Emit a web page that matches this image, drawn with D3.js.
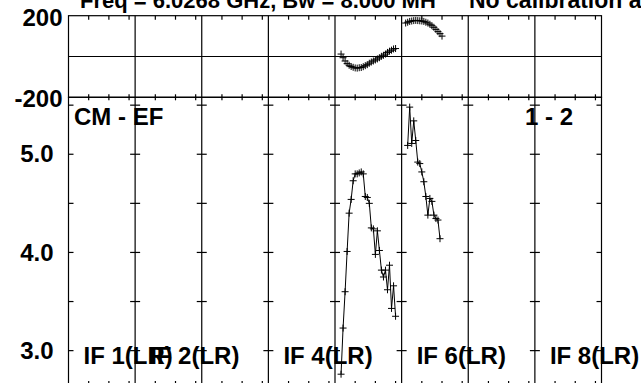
<!DOCTYPE html>
<html><head><meta charset="utf-8">
<script src="https://cdn.jsdelivr.net/npm/d3@7"></script>
<style>
body{margin:0;background:#fff;}
svg{display:block;font-family:"Liberation Sans",Arial,sans-serif;font-weight:bold;}
</style></head>
<body>
<svg id="c" width="641" height="383"></svg>
<script>
// ---------------- data ----------------
const titleLeft = "Freq = 6.0268 GHz, Bw = 8.000 MH";
const titleRight = "No calibration applied";
const baselineLabel = "CM - EF";
const pageLabel = "1 - 2";
const nIF = 8;
const chanPerIF = 33;
const minorTickChans = [10, 20, 30];
const ifLabelIdx = [0, 1, 3, 5, 7];
const ifLabels = ["IF 1(LR)", "IF 2(LR)", "IF 4(LR)", "IF 6(LR)", "IF 8(LR)"];
const phaseTicks = [-200, 200];
const ampTicks = [3.0, 3.5, 4.0, 4.5, 5.0, 5.5];
const ampLabelTicks = [3.0, 4.0, 5.0];

// IF 5 (index 4)
const if5Chan = [3,4,5,6,7,8,9,10,11,12,13,14,15,16,17,18,19,20,21,22,23,24,25,26,27,28,29,30];
const if5Amp = [2.76,3.23,3.60,4.01,4.40,4.54,4.73,4.80,4.80,4.81,4.82,4.80,4.57,4.56,4.50,4.25,4.24,3.98,4.22,4.02,3.82,3.75,3.82,3.62,3.87,3.43,3.66,3.35];
const if5Phase = [12,-6,-22,-35,-43,-49,-53,-56,-57,-55,-54,-50,-45,-40,-33,-27,-22,-17,-12,-6,1,6,12,20,26,31,37,39];
// IF 6 (index 5)
const if6AmpChan = [3,4,5,6,7,8,9,10,11,12,13,14,15,16,17,18,19];
const if6Amp = [5.09,5.48,5.11,5.34,5.14,4.92,4.905,4.82,4.72,4.57,4.38,4.55,4.52,4.38,4.345,4.33,4.14];
const if6PhaseChan = [2,3,4,5,6,7,8,9,10,11,12,13,14,15,16,17,18,19,20];
const if6Phase = [164,168,172,174,176,177,176,175,174,172,168,164,158,151,143,133,122,112,100];

// ---------------- layout ----------------
const svg = d3.select("#c");
const X0 = 68.5, X1 = 601.5;
const topY0 = 15.7, topY1 = 97.3;
const botY0 = 97.3, botY1 = 385;

const x = d3.scaleLinear().domain([0, nIF*chanPerIF]).range([X0, X1]);
const yP = d3.scaleLinear().domain([-200, 200]).range([topY1, topY0]);
const yA = d3.scaleLinear().domain([2.65, 5.58]).range([botY1, botY0]);

const pos = (k, c) => x(k*chanPerIF + c);

// title
svg.append("text").attr("x", 80).attr("y", 8).attr("font-size", 22).text(titleLeft);
svg.append("text").attr("x", 469).attr("y", 8).attr("font-size", 23).text(titleRight);

const g = svg.append("g").attr("stroke", "#000").attr("fill", "none").attr("stroke-width", 1.2);

// frames
g.append("rect").attr("x", X0).attr("y", topY0).attr("width", X1-X0).attr("height", topY1-topY0);
g.append("rect").attr("x", X0).attr("y", botY0).attr("width", X1-X0).attr("height", botY1-botY0);
// zero line in phase panel
g.append("line").attr("x1", X0).attr("x2", X1).attr("y1", yP(0)).attr("y2", yP(0));

// IF separators
const seps = d3.range(1, nIF).map(k => k*chanPerIF);
g.selectAll(".sep").data(seps).join("line")
  .attr("x1", d => x(d)).attr("x2", d => x(d)).attr("y1", topY0).attr("y2", botY1);

// minor x ticks
const minor = [];
for (let k = 0; k < nIF; k++) for (const c of minorTickChans) minor.push(k*chanPerIF + c);
const tickSets = [
  {y: topY0, d: 4}, {y: topY1, d: -3}, {y: botY0, d: 3}, {y: botY1, d: -4}
];
tickSets.forEach(t => {
  g.append("g").selectAll("line").data(minor).join("line")
   .attr("x1", d => x(d)).attr("x2", d => x(d)).attr("y1", t.y).attr("y2", t.y + t.d);
});

// amplitude y ticks on each vertical line
const vlines = [0].concat(seps).concat([nIF*chanPerIF]);
vlines.forEach((v, i) => {
  const xv = x(v);
  const l = (i === 0) ? 0 : -5;
  const r = (i === vlines.length-1) ? 0 : 5;
  g.append("g").selectAll("line").data(ampTicks).join("line")
    .attr("x1", xv + l).attr("x2", xv + r)
    .attr("y1", d => yA(d)).attr("y2", d => yA(d));
});

// y axes labels
const axP = svg.append("g").attr("transform", `translate(${X0},2)`)
  .call(d3.axisLeft(yP).tickValues(phaseTicks).tickSize(0).tickPadding(6).tickFormat(d => String(d)));
const axA = svg.append("g").attr("transform", `translate(${X0},0)`)
  .call(d3.axisLeft(yA).tickValues(ampLabelTicks).tickSize(0).tickPadding(15).tickFormat(d3.format(".1f")));
[axP, axA].forEach(a => {
  a.select(".domain").remove();
  a.selectAll("text").attr("font-size", 24).attr("font-family", "Liberation Sans, Arial, sans-serif")
   .attr("font-weight", "bold").attr("fill", "#000");
});

// panel labels
svg.append("text").attr("x", 74).attr("y", 124.5).attr("font-size", 24).text(baselineLabel);
svg.append("text").attr("x", 573).attr("y", 124.5).attr("font-size", 24).attr("text-anchor", "end").text(pageLabel);
svg.append("g").selectAll("text").data(ifLabelIdx).join("text")
  .attr("x", d => pos(d, 0) + 15).attr("y", 364).attr("font-size", 24)
  .text((d, i) => ifLabels[i]);

// data
const plus = (sel, pts) => {
  const gg = sel.append("g").attr("stroke", "#000").attr("stroke-width", 1);
  gg.selectAll(".h").data(pts).join("line").attr("x1", d => d[0]-3.5).attr("x2", d => d[0]+3.5).attr("y1", d => d[1]).attr("y2", d => d[1]);
  gg.selectAll(".v").data(pts).join("line").attr("x1", d => d[0]).attr("x2", d => d[0]).attr("y1", d => d[1]-3.5).attr("y2", d => d[1]+3.5);
};
const line = d3.line();
const ampSeries = [
  if5Chan.map((c, i) => [pos(4, c), yA(if5Amp[i])]),
  if6AmpChan.map((c, i) => [pos(5, c), yA(if6Amp[i])])
];
const phSeries = [
  if5Chan.map((c, i) => [pos(4, c), yP(if5Phase[i])]),
  if6PhaseChan.map((c, i) => [pos(5, c), yP(if6Phase[i])])
];
ampSeries.forEach(s => {
  svg.append("path").attr("d", line(s)).attr("fill", "none").attr("stroke", "#000").attr("stroke-width", 1);
  plus(svg, s);
});
phSeries.forEach(s => plus(svg, s));
</script>
</body></html>
